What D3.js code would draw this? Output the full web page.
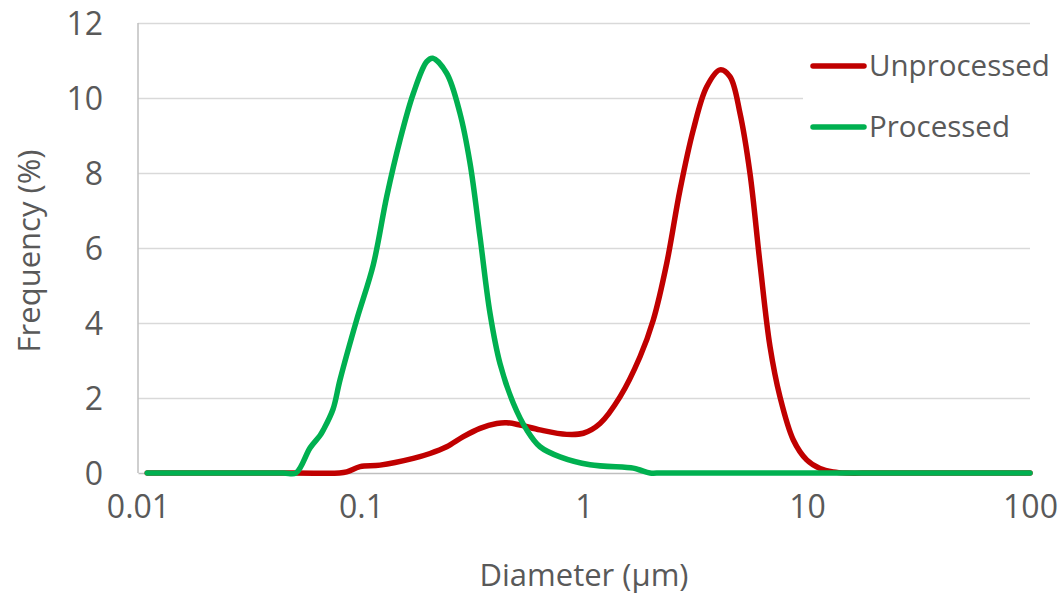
<!DOCTYPE html>
<html>
<head>
<meta charset="utf-8">
<script src="https://cdn.jsdelivr.net/npm/d3@7"></script>
<style>
  body { margin: 0; background: #fff; }
  text { font-family: "Open Sans", "Noto Sans", sans-serif; fill: #595959; }
</style>
</head>
<body>
<svg id="chart" width="1063" height="594"></svg>
<script>
// particle size distributions
const unprocessedD = [0.011, 0.05, 0.08, 0.0863, 0.099, 0.1217, 0.1716, 0.2039, 0.2422, 0.2876, 0.3417, 0.406, 0.4501, 0.5164, 0.635, 0.8365, 0.993, 1.18, 1.45, 1.783, 2.045, 2.349, 2.695, 3.091, 3.55, 4.073, 4.515, 5.008, 5.551, 6.154, 6.826, 7.566, 8.683, 9.97, 11.44, 13.12, 15, 20, 100];
const unprocessedF = [0, 0, 0, 0.03, 0.17, 0.21, 0.39, 0.52, 0.7, 0.97, 1.19, 1.32, 1.34, 1.28, 1.15, 1.03, 1.06, 1.32, 2.03, 3.1, 4.08, 5.59, 7.55, 9.15, 10.3, 10.75, 10.57, 9.59, 7.99, 5.59, 3.37, 2.03, 0.88, 0.35, 0.12, 0.03, 0, 0, 0];

const processedD = [0.011, 0.03, 0.045, 0.0511, 0.0591, 0.0655, 0.0678, 0.0749, 0.0805, 0.0956, 0.1135, 0.1304, 0.1496, 0.1716, 0.1971, 0.2097, 0.2422, 0.2779, 0.3083, 0.3417, 0.3789, 0.42, 0.482, 0.5534, 0.635, 0.7806, 1.064, 1.664, 1.783, 1.977, 2.2, 2.5, 10, 100];
const processedF = [0, 0, 0, 0, 0.67, 1.0, 1.15, 1.7, 2.48, 4.08, 5.55, 7.37, 8.88, 10.12, 10.97, 11.06, 10.66, 9.59, 8.26, 6.3, 4.26, 2.92, 1.86, 1.15, 0.7, 0.43, 0.22, 0.13, 0.08, 0, 0, 0, 0, 0];

const xTicks = [0.01, 0.1, 1, 10, 100];
const xTickLabels = ['0.01', '0.1', '1', '10', '100'];
const yTicks = [0, 2, 4, 6, 8, 10, 12];

const series = [
  { name: 'Unprocessed', color: '#C00000', d: unprocessedD, f: unprocessedF },
  { name: 'Processed', color: '#00B050', d: processedD, f: processedF }
];

const svg = d3.select('#chart');
const margin = { top: 23, right: 33, bottom: 121, left: 138 };
const width = 1063, height = 594;

const x = d3.scaleLog()
  .domain([0.01, 100])
  .range([margin.left, width - margin.right]);

const y = d3.scaleLinear()
  .domain([0, 12])
  .range([height - margin.bottom, margin.top]);

// gridlines
svg.append('g')
  .attr('transform', `translate(${margin.left},0)`)
  .call(d3.axisLeft(y).tickValues(yTicks.slice(1)).tickSize(-(width - margin.right - margin.left)).tickFormat(''))
  .call(g => g.select('.domain').remove())
  .call(g => g.selectAll('line').attr('stroke', '#d9d9d9').attr('stroke-width', 1.5));

// y labels
svg.append('g')
  .attr('transform', `translate(${margin.left},0)`)
  .call(d3.axisLeft(y).tickValues(yTicks).tickSize(0).tickPadding(35))
  .call(g => g.select('.domain').remove())
  .call(g => g.selectAll('text').attr('font-size', 32).attr('font-family', null).attr('fill', null).attr('dy', '0.35em'));

// axis lines
svg.append('line')
  .attr('x1', margin.left).attr('x2', margin.left)
  .attr('y1', y(12)).attr('y2', y(0))
  .attr('stroke', '#bfbfbf').attr('stroke-width', 1.5);

svg.append('g')
  .attr('transform', `translate(0,${y(0)})`)
  .call(d3.axisBottom(x).tickValues(xTicks).tickSize(0).tickPadding(22)
    .tickFormat((d, i) => xTickLabels[i]))
  .call(g => g.select('.domain').attr('stroke', '#bfbfbf').attr('stroke-width', 1.5))
  .call(g => g.selectAll('text').attr('font-size', 32).attr('font-family', null).attr('fill', null));

// curves
const line = d3.line()
  .x(p => x(p[0]))
  .y(p => y(p[1]))
  .curve(d3.curveCatmullRom.alpha(0.5));

svg.append('g')
  .selectAll('path')
  .data(series)
  .join('path')
    .attr('d', s => line(s.d.map((v, i) => [v, s.f[i]])))
    .attr('fill', 'none')
    .attr('stroke', s => s.color)
    .attr('stroke-width', 5.5)
    .attr('stroke-linejoin', 'round')
    .attr('stroke-linecap', 'round');

// legend
const legend = svg.append('g');
legend.append('rect')
  .attr('x', 803).attr('y', 40)
  .attr('width', 260).attr('height', 118)
  .attr('fill', '#fff');

const item = legend.selectAll('g')
  .data(series)
  .join('g')
    .attr('transform', (s, i) => `translate(0,${66 + i * 61})`);

item.append('line')
  .attr('x1', 813).attr('x2', 864)
  .attr('stroke', s => s.color)
  .attr('stroke-width', 5.5)
  .attr('stroke-linecap', 'round');

item.append('text')
  .attr('x', 869).attr('y', 10)
  .attr('font-size', 29.5)
  .text(s => s.name);

// axis titles
svg.append('text')
  .attr('x', x(1)).attr('y', 586)
  .attr('text-anchor', 'middle')
  .attr('font-size', 31)
  .text('Diameter (µm)');

svg.append('text')
  .attr('transform', 'translate(40,251) rotate(-90)')
  .attr('text-anchor', 'middle')
  .attr('font-size', 31)
  .text('Frequency (%)');
</script>
</body>
</html>
